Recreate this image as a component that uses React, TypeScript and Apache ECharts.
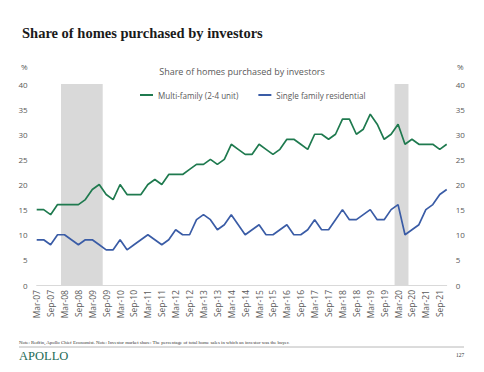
import React, { useEffect, useRef } from "react";
import * as echarts from "echarts";

const categories = [
  "Mar-07", "Jun-07", "Sep-07", "Dec-07",
  "Mar-08", "Jun-08", "Sep-08", "Dec-08",
  "Mar-09", "Jun-09", "Sep-09", "Dec-09",
  "Mar-10", "Jun-10", "Sep-10", "Dec-10",
  "Mar-11", "Jun-11", "Sep-11", "Dec-11",
  "Mar-12", "Jun-12", "Sep-12", "Dec-12",
  "Mar-13", "Jun-13", "Sep-13", "Dec-13",
  "Mar-14", "Jun-14", "Sep-14", "Dec-14",
  "Mar-15", "Jun-15", "Sep-15", "Dec-15",
  "Mar-16", "Jun-16", "Sep-16", "Dec-16",
  "Mar-17", "Jun-17", "Sep-17", "Dec-17",
  "Mar-18", "Jun-18", "Sep-18", "Dec-18",
  "Mar-19", "Jun-19", "Sep-19", "Dec-19",
  "Mar-20", "Jun-20", "Sep-20", "Dec-20",
  "Mar-21", "Jun-21", "Sep-21", "Dec-21",
];

const multiFamily = [
  15, 15, 14, 16,
  16, 16, 16, 17,
  19, 20, 18, 17,
  20, 18, 18, 18,
  20, 21, 20, 22,
  22, 22, 23, 24,
  24, 25, 24, 25,
  28, 27, 26, 26,
  28, 27, 26, 27,
  29, 29, 28, 27,
  30, 30, 29, 30,
  33, 33, 30, 31,
  34, 32, 29, 30,
  32, 28, 29, 28,
  28, 28, 27, 28,
];

const singleFamily = [
  9, 9, 8, 10,
  10, 9, 8, 9,
  9, 8, 7, 7,
  9, 7, 8, 9,
  10, 9, 8, 9,
  11, 10, 10, 13,
  14, 13, 11, 12,
  14, 12, 10, 11,
  12, 10, 10, 11,
  12, 10, 10, 11,
  13, 11, 11, 13,
  15, 13, 13, 14,
  15, 13, 13, 15,
  16, 10, 11, 12,
  15, 16, 18, 19,
];

// Shaded recession periods: first and last shaded quarter
const recessionStarts = ["Mar-08", "Mar-20"];
const recessionEnds = ["Jun-09", "Jun-20"];

const yMin = 0;
const yMax = 40;
const yStep = 5;

const chartTitle = "Share of homes purchased by investors";
const innerTitle = "Share of homes purchased by investors";
const seriesNames = ["Multi-family (2-4 unit)", "Single family residential"];
const noteText =
  "Note: Redfin, Apollo Chief Economist. Note: Investor market share: The percentage of total home sales in which an investor was the buyer.";
const pageNumber = "127";

const GREEN = "#1f7a4f";
const BLUE = "#3a5ca6";
const SHADE = "#d9d9d9";
const GREY_TEXT = "#595959";
const SANS = "'Open Sans', 'Noto Sans', sans-serif";
const SERIF = "'Liberation Serif', 'DejaVu Serif', serif";

export default function App() {
  const ref = useRef<HTMLDivElement>(null);

  useEffect(() => {
    document.body.style.margin = "0";
    if (!ref.current) return;
    const chart = echarts.init(ref.current, undefined, { renderer: "svg" });

    const shadeAreas = recessionStarts.map((s, i) => [
      { xAxis: categories.indexOf(s) - 0.5 },
      { xAxis: categories.indexOf(recessionEnds[i]) + 0.5 },
    ]);

    const yAxisCommon = {
      type: "value" as const,
      min: yMin,
      max: yMax,
      interval: yStep,
      splitLine: { show: false },
      axisLine: { show: false },
      axisTick: { show: false },
      axisLabel: { color: GREY_TEXT, fontSize: 8, fontFamily: SANS, margin: 9 },
    };

    chart.setOption({
      animation: false,
      backgroundColor: "#ffffff",
      title: [
        {
          text: chartTitle,
          left: 17,
          top: 20,
          textStyle: {
            fontFamily: SERIF,
            fontSize: 14.5,
            fontWeight: "bold",
            color: "#1a1a1a",
          },
        },
        {
          text: innerTitle,
          left: "center",
          top: 62,
          textStyle: {
            fontFamily: SANS,
            fontSize: 9,
            fontWeight: "normal",
            color: GREY_TEXT,
          },
        },
      ],
      legend: {
        data: seriesNames,
        left: 135,
        top: 86,
        icon: "rect",
        itemWidth: 13,
        itemHeight: 2,
        itemGap: 20,
        textStyle: {
          fontFamily: SANS,
          fontSize: 8.1,
          color: GREY_TEXT,
        },
      },
      grid: { left: 36.7, right: 37.3, top: 84, bottom: 87, containLabel: false },
      xAxis: [
        {
          type: "category",
          data: categories,
          boundaryGap: false,
          axisLine: { show: true, lineStyle: { color: SHADE, width: 1 } },
          axisTick: { show: false },
          axisLabel: {
            rotate: 90,
            interval: 1,
            color: GREY_TEXT,
            fontSize: 8.5,
            fontFamily: SANS,
            margin: 5,
          },
          splitLine: { show: false },
        },
        {
          type: "value",
          min: 0,
          max: categories.length - 1,
          show: false,
          splitLine: { show: false },
        },
      ],
      yAxis: [
        { ...yAxisCommon, position: "left" },
        { ...yAxisCommon, position: "right" },
      ],
      series: [
        {
          name: "Recession",
          type: "line",
          xAxisIndex: 1,
          yAxisIndex: 0,
          data: [],
          silent: true,
          z: 1,
          markArea: {
            silent: true,
            itemStyle: { color: SHADE },
            data: shadeAreas,
          },
        },
        {
          name: seriesNames[0],
          type: "line",
          data: multiFamily,
          symbol: "none",
          lineStyle: { color: GREEN, width: 1.7 },
          itemStyle: { color: GREEN },
          z: 3,
        },
        {
          name: seriesNames[1],
          type: "line",
          data: singleFamily,
          symbol: "none",
          lineStyle: { color: BLUE, width: 1.7 },
          itemStyle: { color: BLUE },
          z: 3,
        },
      ],
      graphic: [
        {
          type: "text",
          left: 21,
          top: 62,
          style: { text: "%", fontSize: 8, fontFamily: SANS, fill: GREY_TEXT },
        },
        {
          type: "text",
          left: 457,
          top: 62,
          style: { text: "%", fontSize: 8, fontFamily: SANS, fill: GREY_TEXT },
        },
        {
          type: "text",
          left: 19,
          top: 340,
          style: { text: noteText, fontSize: 4.85, fontFamily: SERIF, fill: "#333333" },
        },
        {
          type: "line",
          shape: { x1: 19, y1: 347, x2: 464, y2: 347 },
          style: { stroke: "#a6a6a6", lineWidth: 0.8 },
        },
        {
          type: "text",
          left: 19,
          top: 349,
          style: {
            text: "APOLLO",
            fontSize: 12.5,
            fontFamily: SERIF,
            fill: "#1d6b55",
          },
        },
        {
          type: "text",
          left: 456,
          top: 352,
          style: { text: pageNumber, fontSize: 5.5, fontFamily: SERIF, fill: "#333333" },
        },
      ],
    });

    return () => chart.dispose();
  }, []);

  return <div ref={ref} style={{ width: 484, height: 372 }} />;
}
